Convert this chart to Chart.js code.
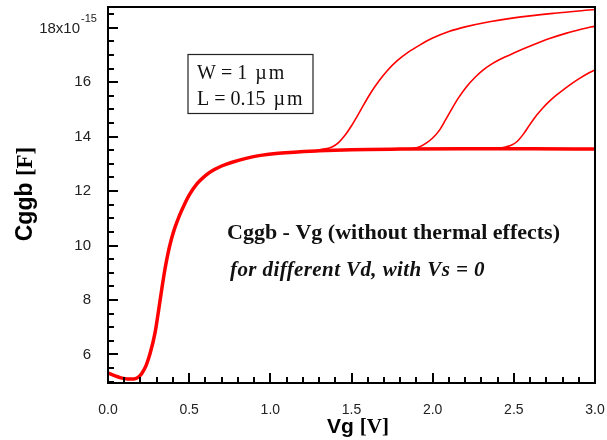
<!DOCTYPE html>
<html>
<head>
<meta charset="utf-8">
<script src="https://cdn.jsdelivr.net/npm/chart.js@4.4.0/dist/chart.umd.min.js"></script>
<style>
  body { margin: 0; background: #fff; }
  #wrap { width: 607px; height: 440px; }
</style>
</head>
<body>
<div id="wrap"><canvas id="cgChart" width="607" height="440"></canvas></div>
<script>
// Cggb vs Vg, values in units of 1e-15 F
const vgBase = [0, 0.04, 0.08, 0.12, 0.16, 0.19, 0.21, 0.235, 0.26, 0.29, 0.31, 0.33, 0.35, 0.37, 0.39, 0.41, 0.44, 0.47, 0.5, 0.55, 0.6, 0.65, 0.7, 0.76, 0.85, 0.94, 1.05, 1.3, 1.5, 1.8, 2.2, 2.6, 3.0];
const cgBase = [5.32, 5.22, 5.14, 5.10, 5.10, 5.18, 5.32, 5.6, 6.05, 6.8, 7.55, 8.35, 9.1, 9.72, 10.22, 10.62, 11.1, 11.5, 11.85, 12.28, 12.57, 12.77, 12.92, 13.05, 13.2, 13.31, 13.39, 13.48, 13.52, 13.54, 13.55, 13.55, 13.54];

const vg1 = [1.3, 1.38, 1.42, 1.46, 1.5, 1.54, 1.58, 1.62, 1.67, 1.72, 1.78, 1.85, 1.92, 2.0, 2.1, 2.2, 2.35, 2.5, 2.75, 3.0];
const cg1 = [13.51, 13.62, 13.78, 14.05, 14.4, 14.8, 15.22, 15.62, 16.05, 16.42, 16.78, 17.1, 17.36, 17.62, 17.86, 18.03, 18.22, 18.36, 18.53, 18.67];

const vg2 = [1.85, 1.92, 1.96, 2.0, 2.04, 2.08, 2.12, 2.16, 2.21, 2.26, 2.31, 2.36, 2.41, 2.5, 2.62, 2.72, 2.825, 2.92, 3.0];
const cg2 = [13.54, 13.63, 13.76, 13.95, 14.22, 14.62, 15.04, 15.43, 15.84, 16.17, 16.44, 16.65, 16.82, 17.07, 17.37, 17.6, 17.8, 17.95, 18.06];

const vg3 = [2.38, 2.455, 2.49, 2.52, 2.56, 2.6, 2.64, 2.68, 2.72, 2.76, 2.8, 2.85, 2.9, 2.95, 3.0];
const cg3 = [13.55, 13.63, 13.7, 13.82, 14.1, 14.45, 14.78, 15.06, 15.3, 15.51, 15.7, 15.92, 16.12, 16.3, 16.45];

const xTicks = [0, 0.5, 1.0, 1.5, 2.0, 2.5, 3.0];
const yTicks = [6, 8, 10, 12, 14, 16, 18];

const pts = (xs, ys) => xs.map((x, i) => ({ x, y: ys[i] }));

function line(xs, ys, width) {
  return {
    data: pts(xs, ys),
    borderColor: '#ff0000',
    borderWidth: width,
    pointRadius: 0,
    cubicInterpolationMode: 'monotone',
    fill: false
  };
}

// text with a Symbol-like spaced "µ m" unit
function unitText(ctx, pre, x, y) {
  ctx.fillText(pre, x, y);
  let px = x + ctx.measureText(pre).width + 8;
  ctx.fillText('\u00b5', px, y);
  px += ctx.measureText('\u00b5').width + 2;
  ctx.fillText('m', px, y);
}

// frame, inward ticks, axis titles and text boxes
const decor = {
  id: 'decor',
  afterDraw(c) {
    const ctx = c.ctx, a = c.chartArea;
    const xs = c.scales.x, ys = c.scales.y;
    ctx.save();
    ctx.strokeStyle = '#000';
    ctx.lineWidth = 2;
    ctx.strokeRect(a.left, a.top, a.right - a.left, a.bottom - a.top);

    ctx.beginPath();
    for (let i = 0; i <= 30; i++) {
      const px = Math.round(xs.getPixelForValue(i / 10));
      const len = i % 5 === 0 ? 10 : 6;
      ctx.moveTo(px, a.bottom);
      ctx.lineTo(px, a.bottom - len);
    }
    for (let i = 10; i <= 37; i++) {
      const v = i / 2;
      const py = Math.round(ys.getPixelForValue(v));
      const len = v % 2 === 0 ? 10 : 6;
      ctx.moveTo(a.left, py);
      ctx.lineTo(a.left + len, py);
    }
    ctx.stroke();

    // 18x10^-15 label
    ctx.fillStyle = '#222';
    ctx.textBaseline = 'alphabetic';
    ctx.textAlign = 'right';
    ctx.font = '15px "Liberation Sans"';
    const y18 = ys.getPixelForValue(18);
    ctx.fillText('18x10', 80, y18 + 5.5);
    ctx.textAlign = 'left';
    ctx.font = '11px "Liberation Sans"';
    ctx.fillText('-15', 81, y18 - 6);

    // axis titles
    ctx.fillStyle = '#000';
    const t1 = 'Vg ', t2 = '[V]';
    ctx.font = 'bold 21px "Liberation Sans"';
    const w1 = ctx.measureText(t1).width;
    ctx.font = 'bold 21px "Liberation Serif"';
    const w2 = ctx.measureText(t2).width;
    let x0 = 358 - (w1 + w2) / 2;
    ctx.font = 'bold 21px "Liberation Sans"';
    ctx.fillText(t1, x0, 433);
    ctx.font = 'bold 21px "Liberation Serif"';
    ctx.fillText(t2, x0 + w1, 433);

    ctx.save();
    ctx.translate(32, 194);
    ctx.rotate(-Math.PI / 2);
    const s1 = 'Cggb ', s2 = '[F]';
    ctx.font = 'bold 23px "Liberation Sans"';
    const v1 = ctx.measureText(s1).width;
    ctx.font = 'bold 23px "Liberation Serif"';
    const v2 = ctx.measureText(s2).width;
    x0 = -(v1 + v2) / 2;
    ctx.font = 'bold 23px "Liberation Sans"';
    ctx.fillText(s1, x0, 0);
    ctx.font = 'bold 23px "Liberation Serif"';
    ctx.fillText(s2, x0 + v1, 0);
    ctx.restore();

    // W/L box
    ctx.lineWidth = 1.2;
    ctx.strokeStyle = '#222';
    ctx.strokeRect(188, 54.5, 125, 59);
    ctx.fillStyle = '#111';
    ctx.font = '20px "Liberation Serif"';
    unitText(ctx, 'W = 1', 197, 79);
    unitText(ctx, 'L = 0.15', 197, 105);

    ctx.font = 'bold 22px "Liberation Serif"';
    ctx.fillText('Cggb - Vg (without thermal effects)', 227, 238.5);
    ctx.font = 'italic bold 21px "Liberation Serif"';
    ctx.letterSpacing = '0.4px';
    ctx.fillText('for different Vd, with Vs = 0', 230, 276);
    ctx.restore();
  }
};

new Chart(document.getElementById('cgChart'), {
  type: 'line',
  data: {
    datasets: [
      line(vgBase, cgBase, 3.5),
      line(vg1, cg1, 1.6),
      line(vg2, cg2, 1.6),
      line(vg3, cg3, 1.6)
    ]
  },
  options: {
    responsive: false,
    animation: false,
    layout: { padding: { top: 7, right: 12, left: 0, bottom: 0 } },
    plugins: { legend: { display: false }, tooltip: { enabled: false } },
    scales: {
      x: {
        type: 'linear',
        min: 0,
        max: 3,
        afterBuildTicks: s => { s.ticks = xTicks.map(v => ({ value: v })); },
        afterFit: s => { s.height = 57; s.paddingLeft = 0; s.paddingRight = 0; },
        grid: { display: false },
        border: { display: false },
        ticks: {
          padding: 11,
          color: '#222',
          font: { family: 'Liberation Sans', size: 14 },
          maxRotation: 0,
          callback: v => v.toFixed(1)
        }
      },
      y: {
        type: 'linear',
        min: 4.95,
        max: 18.76,
        afterBuildTicks: s => { s.ticks = yTicks.map(v => ({ value: v })); },
        afterFit: s => { s.width = 108; s.paddingTop = 0; s.paddingBottom = 0; },
        grid: { display: false },
        border: { display: false },
        ticks: {
          padding: 9,
          color: '#222',
          font: { family: 'Liberation Sans', size: 15 },
          callback: v => (v === 18 ? '' : v)
        }
      }
    }
  },
  plugins: [decor]
});
</script>
</body>
</html>
